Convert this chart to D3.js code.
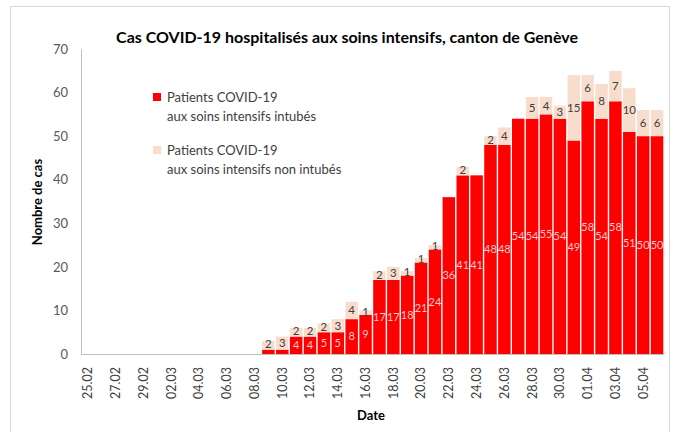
<!DOCTYPE html>
<html>
<head>
<meta charset="utf-8">
<script src="https://cdn.jsdelivr.net/npm/d3@7"></script>
<style>
  body { margin: 0; background: #fff; }
  svg { font-family: Lato, "Open Sans", sans-serif; }
</style>
</head>
<body>
<svg width="675" height="432"></svg>
<script>
// données
const dates = ["25.02","26.02","27.02","28.02","29.02","01.03","02.03","03.03","04.03","05.03",
  "06.03","07.03","08.03","09.03","10.03","11.03","12.03","13.03","14.03","15.03","16.03",
  "17.03","18.03","19.03","20.03","21.03","22.03","23.03","24.03","25.03","26.03","27.03",
  "28.03","29.03","30.03","31.03","01.04","02.04","03.04","04.04","05.04","06.04"];
const intubes = [0,0,0,0,0,0,0,0,0,0,0,0,0,1,1,4,4,5,5,8,9,17,17,18,21,24,36,41,41,48,48,54,54,55,54,49,58,54,58,51,50,50];
const nonIntubes = [0,0,0,0,0,0,0,0,0,0,0,0,0,2,3,2,2,2,3,4,1,2,3,1,1,1,0,2,0,2,4,0,5,4,3,15,6,8,7,10,6,6];
const yTicks = [0,10,20,30,40,50,60,70];

const RED = "#ff0000";
const BEIGE = "#f8ddcc";

const svg = d3.select("svg");
const margin = {left: 81, right: 11, top: 49, bottom: 78};
const width = 675, height = 432;

const x = d3.scaleBand().domain(dates)
    .range([margin.left, width - margin.right])
    .paddingInner(0.1).paddingOuter(0.05);
const y = d3.scaleLinear().domain([0, 70]).range([height - margin.bottom, margin.top]);

// cadre
svg.append("rect")
    .attr("x", 10.5).attr("y", 6.5).attr("width", 659).attr("height", 430)
    .attr("fill", "none").attr("stroke", "#d9d9d9");

svg.append("text")
    .attr("x", 347).attr("y", 43)
    .attr("text-anchor", "middle")
    .attr("font-size", 16).attr("font-weight", "bold").attr("fill", "#000")
    .text("Cas COVID-19 hospitalisés aux soins intensifs, canton de Genève");

// axe y
const yAxis = svg.append("g")
    .attr("transform", `translate(${margin.left},0)`)
    .call(d3.axisLeft(y).tickValues(yTicks).tickSize(0).tickPadding(13));
yAxis.select(".domain").attr("stroke", "#bfbfbf");
yAxis.selectAll("text").attr("font-size", 13).attr("fill", "#595959")
    .attr("font-family", "Lato, sans-serif");

// axe x
const xAxis = svg.append("g")
    .attr("transform", `translate(0,${y(0)})`)
    .call(d3.axisBottom(x).tickValues(dates.filter((d, i) => i % 2 === 0)).tickSize(0));
xAxis.select(".domain").attr("stroke", "#bfbfbf");
xAxis.selectAll("text")
    .attr("font-size", 12.5).attr("fill", "#404040").attr("font-family", "Lato, sans-serif")
    .attr("transform", "rotate(-90)")
    .attr("text-anchor", "end")
    .attr("x", -13).attr("y", 0).attr("dy", "0.35em");

svg.append("text")
    .attr("transform", "translate(42,202) rotate(-90)")
    .attr("text-anchor", "middle")
    .attr("font-size", 13).attr("font-weight", "bold").attr("fill", "#000")
    .text("Nombre de cas");
svg.append("text")
    .attr("x", 371).attr("y", 420)
    .attr("text-anchor", "middle")
    .attr("font-size", 13).attr("font-weight", "bold").attr("fill", "#000")
    .text("Date");

// barres
const rows = dates.map((d, i) => ({date: d, a: intubes[i], b: nonIntubes[i]}));
const bars = svg.append("g").selectAll("g").data(rows).enter().append("g");

bars.filter(d => d.a > 0).append("rect")
    .attr("x", d => x(d.date)).attr("width", x.bandwidth())
    .attr("y", d => y(d.a)).attr("height", d => y(0) - y(d.a))
    .attr("fill", RED);
bars.filter(d => d.b > 0).append("rect")
    .attr("x", d => x(d.date)).attr("width", x.bandwidth())
    .attr("y", d => y(d.a + d.b)).attr("height", d => y(d.a) - y(d.a + d.b))
    .attr("fill", BEIGE);

bars.filter(d => d.a > 1).append("text")
    .attr("x", d => x(d.date) + x.bandwidth() / 2)
    .attr("y", d => y(d.a / 2)).attr("dy", "0.35em")
    .attr("text-anchor", "middle")
    .attr("font-size", 11).attr("fill", "#fbcaca")
    .text(d => d.a);
bars.filter(d => d.b > 0).append("text")
    .attr("x", d => x(d.date) + x.bandwidth() / 2)
    .attr("y", d => y(d.a + d.b / 2) - (d.b < 3 ? 1 : 0)).attr("dy", "0.35em")
    .attr("text-anchor", "middle")
    .attr("font-size", 11.5).attr("fill", "#404040")
    .text(d => d.b);

// légende
const legend = [
  {color: RED, lines: ["Patients COVID-19", "aux soins intensifs intubés"]},
  {color: BEIGE, lines: ["Patients COVID-19", "aux soins intensifs non intubés"]}
];
const lg = svg.append("g").selectAll("g").data(legend).enter().append("g")
    .attr("transform", (d, i) => `translate(153,${97 + i * 53})`);
lg.append("rect").attr("x", 0).attr("y", -4).attr("width", 8).attr("height", 8)
    .attr("fill", d => d.color);
lg.append("text").attr("x", 14).attr("y", 0).attr("dy", "0.35em")
    .attr("font-size", 13).attr("fill", "#404040")
    .text(d => d.lines[0]);
lg.append("text").attr("x", 14).attr("y", 19).attr("dy", "0.35em")
    .attr("font-size", 13).attr("fill", "#404040")
    .text(d => d.lines[1]);
</script>
</body>
</html>
